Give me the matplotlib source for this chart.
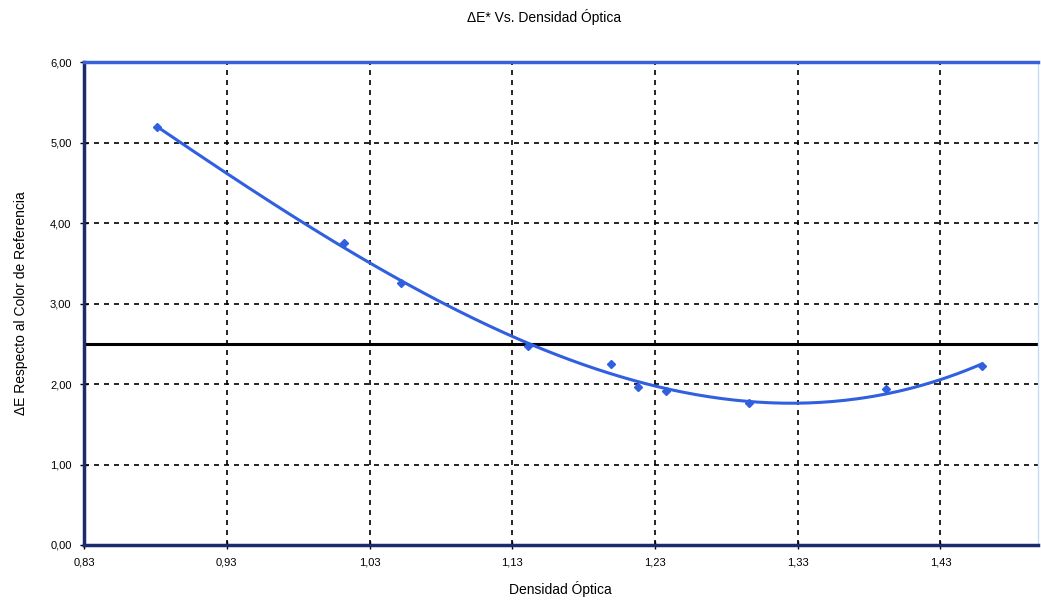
import matplotlib.pyplot as plt
import numpy as np
from matplotlib.ticker import FuncFormatter

# puntos medidos (densidad optica, delta E)
densidad = [0.881, 1.012, 1.052, 1.141, 1.199, 1.218, 1.238, 1.296, 1.392, 1.459]
delta_e = [5.19, 3.75, 3.25, 2.47, 2.25, 1.96, 1.91, 1.76, 1.94, 2.22]
limite = 2.5
x_ticks = [0.83, 0.93, 1.03, 1.13, 1.23, 1.33, 1.43]
y_ticks = [0, 1, 2, 3, 4, 5, 6]

plt.rcParams['font.family'] = ['Liberation Sans', 'DejaVu Sans']

fig = plt.figure(figsize=(10.41, 6.04), dpi=100)
ax = fig.add_axes([0.0807, 0.0977, 0.916, 0.7995])

# --- GRID ---
ax.set_xticks(x_ticks)
ax.set_yticks(y_ticks)
ax.grid(True, color='black', linestyle=(0, (3, 3)), linewidth=1.2, zorder=0)

# linea de referencia
ax.axhline(limite, color='black', linewidth=2.2, zorder=2)

# --- TRENDLINE (polinomica) ---
coef = np.polyfit(densidad, delta_e, 3)
xs = np.linspace(min(densidad), max(densidad), 200)
ax.plot(xs, np.polyval(coef, xs), color='#3060e0', linewidth=2.2, zorder=3)
ax.plot(densidad, delta_e, linestyle='none', marker='D', markersize=4,
        color='#3060e0', zorder=4)

ax.set_xlim(0.83, 1.498)
ax.set_ylim(0, 6)

fmt = FuncFormatter(lambda v, p: f"{v:.2f}".replace('.', ','))
ax.xaxis.set_major_formatter(fmt)
ax.yaxis.set_major_formatter(fmt)
ax.tick_params(direction='inout', length=6, width=1, labelsize=8, pad=6)

# --- SPINES ---
ax.spines['left'].set_color('#1c2a70')
ax.spines['bottom'].set_color('#1c2a70')
ax.spines['left'].set_linewidth(2.5)
ax.spines['bottom'].set_linewidth(2.5)
ax.spines['top'].set_color('#3a62d8')
ax.spines['top'].set_linewidth(2.5)
ax.spines['right'].set_color('#c8dcf5')
ax.spines['right'].set_linewidth(1)

ax.set_xlabel("Densidad Óptica", fontsize=10, labelpad=10)
ax.set_ylabel("ΔE Respecto al Color de Referencia", fontsize=10, labelpad=16)
fig.suptitle("ΔE* Vs. Densidad Óptica", fontsize=10, x=0.523, y=0.985)

fig.savefig("out.png", dpi=100)
